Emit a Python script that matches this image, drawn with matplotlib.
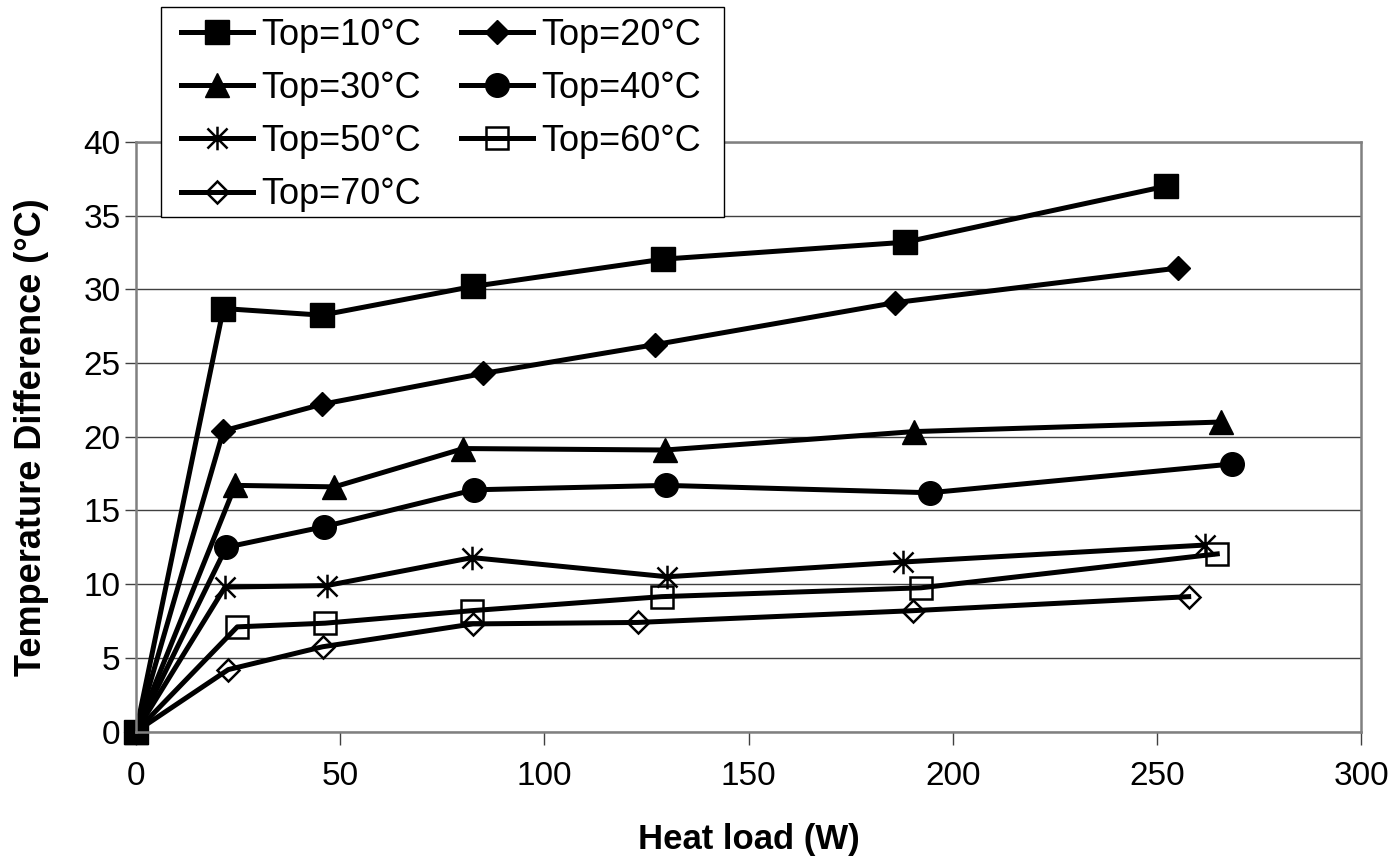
import matplotlib
matplotlib.use("Agg")
import matplotlib.pyplot as plt
from matplotlib.path import Path
from matplotlib.patches import Rectangle

plt.rcParams['font.family'] = ['Liberation Sans', 'DejaVu Sans']

# heat load (W) and temperature difference (C) per operating temperature
labels = ["Top=10°C", "Top=20°C", "Top=30°C", "Top=40°C",
          "Top=50°C", "Top=60°C", "Top=70°C"]

x10 = [0, 21.4, 45.5, 82.5, 129.1, 188.4, 252.2]
y10 = [0, 28.7, 28.25, 30.2, 32.05, 33.2, 37.0]
x20 = [0, 21.4, 45.5, 85.1, 127.1, 185.9, 255.3]
y20 = [0, 20.4, 22.2, 24.3, 26.25, 29.1, 31.45]
x30 = [0, 24.3, 48.6, 80.2, 129.6, 190.5, 265.8]
y30 = [0, 16.7, 16.6, 19.2, 19.1, 20.35, 21.0]
x40 = [0, 22.1, 46.1, 82.8, 129.9, 194.4, 268.4]
y40 = [0, 12.5, 13.9, 16.4, 16.7, 16.2, 18.15]
x50 = [0, 21.8, 46.7, 82.3, 130.1, 187.8, 261.7]
y50 = [0, 9.8, 9.9, 11.8, 10.5, 11.5, 12.65]
x60 = [0, 24.8, 46.3, 82.3, 128.7, 192.2, 264.8]
y60 = [0, 7.1, 7.35, 8.2, 9.15, 9.75, 12.05]
x70 = [0, 22.6, 45.7, 82.5, 122.9, 190.4, 257.8]
y70 = [0, 4.2, 5.75, 7.3, 7.4, 8.2, 9.15]

xs = [x10, x20, x30, x40, x50, x60, x70]
ys = [y10, y20, y30, y40, y50, y60, y70]

# excel style asterisk: vertical bar plus an X
asterisk = Path([(0, -1), (0, 1), (-0.85, -0.85), (0.85, 0.85), (-0.85, 0.85), (0.85, -0.85)],
                [Path.MOVETO, Path.LINETO, Path.MOVETO, Path.LINETO, Path.MOVETO, Path.LINETO])

styles = [
    dict(marker='s', ms=17, mfc='black', mec='black', mew=1),
    dict(marker='D', ms=12, mfc='black', mec='black', mew=1),
    dict(marker='^', ms=17, mfc='black', mec='black', mew=1),
    dict(marker='o', ms=17, mfc='black', mec='black', mew=1),
    dict(marker=asterisk, ms=17, mfc='none', mec='black', mew=1.8),
    dict(marker='s', ms=16, mfc='none', mec='black', mew=1.8),
    dict(marker='D', ms=11, mfc='none', mec='black', mew=1.8),
]

W, H = 1399, 867
fig = plt.figure(figsize=(W / 100, H / 100), dpi=100)
ax = fig.add_axes([136/W, 1 - 731.5/H, (1361-136)/W, (731.5-142)/H])

lines = []
for x, y, lab, st in zip(xs, ys, labels, styles):
    ln, = ax.plot(x, y, color='black', lw=3.6, label=lab, clip_on=False, **st)
    lines.append(ln)

ax.set_xlim(0, 300)
ax.set_ylim(0, 40)
ax.set_xticks(range(0, 301, 50))
ax.set_yticks(range(0, 41, 5))
ax.yaxis.grid(True, color='#404040', lw=1.0)
ax.set_axisbelow(True)
for s in ax.spines.values():
    s.set_color('#808080')
    s.set_linewidth(1.8)
ax.tick_params(axis='x', direction='out', length=9, width=1, color='#404040', labelsize=24, pad=12)
ax.tick_params(axis='y', direction='out', length=8, width=1, color='#404040', labelsize=24, pad=3)

ax.set_xlabel("Heat load (W)", fontsize=25, fontweight='bold')
ax.set_ylabel("Temperature Difference (°C)", fontsize=26, fontweight='bold')
ax.xaxis.set_label_coords(0.5, -0.156)
ax.yaxis.set_label_coords(-0.071, 0.5)

# legend box drawn on its own so the padding can differ per side
fig.patches.append(Rectangle((161/W, 1 - 217/H), (724-161)/W, (217-7)/H,
                             transform=fig.transFigure, facecolor='white',
                             edgecolor='black', lw=1.0, zorder=5))

# excel fills the legend row by row
order = [0, 2, 4, 6, 1, 3, 5]
leg = fig.legend([lines[i] for i in order], [labels[i] for i in order],
                 loc='upper left', bbox_to_anchor=(181/W, 1 - 18/H), ncol=2,
                 fontsize=26, frameon=False, borderpad=0, labelspacing=0.5,
                 handlelength=2.0, handletextpad=0.22, columnspacing=1.1,
                 borderaxespad=0)
leg.set_zorder(6)

fig.savefig("out.png", dpi=100)
